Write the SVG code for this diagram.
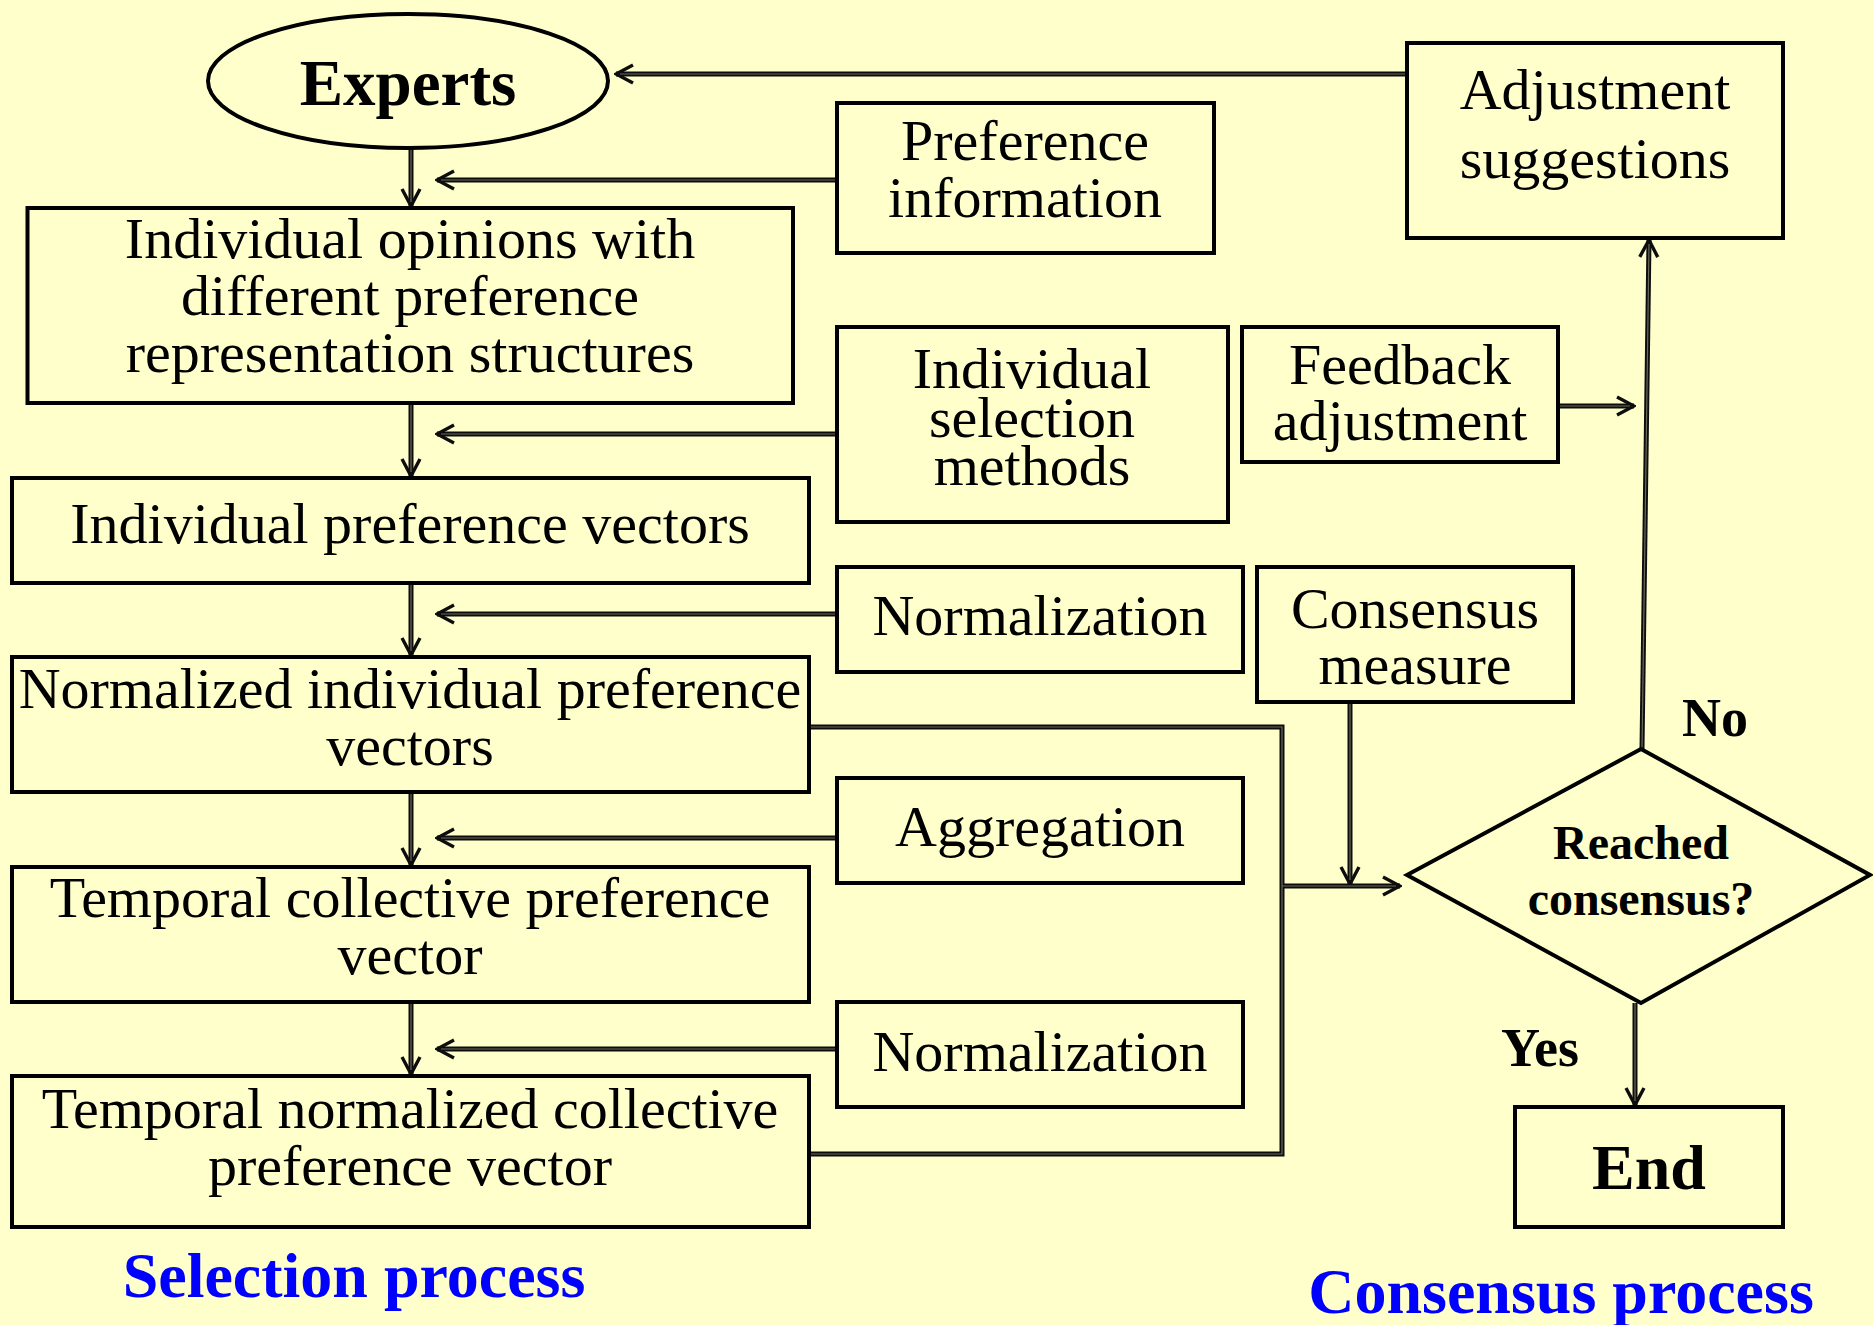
<svg xmlns="http://www.w3.org/2000/svg" width="1873" height="1325" viewBox="0 0 1873 1325">
<style>
.bg{fill:#ffffcc}
.box{fill:none;stroke:#000;stroke-width:4}
.t{font-family:"Liberation Serif","Times New Roman",serif;font-size:58px;fill:#000;text-anchor:middle}
.b{font-weight:bold}
.lbl{font-family:"Liberation Serif","Times New Roman",serif;font-weight:bold;font-size:64px;fill:#0000ff;text-anchor:middle}
.c{fill:none;stroke:#0d0d0d;stroke-width:5}
.ci{fill:none;stroke:#6a6a5c;stroke-width:1.2}
</style>
<defs>
<marker id="ah" viewBox="0 0 22 22" refX="20" refY="11" markerWidth="22" markerHeight="22" markerUnits="userSpaceOnUse" orient="auto">
<path d="M3,2 L20,11 L3,20" fill="none" stroke="#0d0d0d" stroke-width="3.4"/>
</marker>
</defs>
<rect class="bg" x="0" y="0" width="1873" height="1325"/>

<g id="connectors">
<path class="c" d="M1407,74 L616,74" marker-end="url(#ah)"/>
<path class="c" d="M837,180 L437,180" marker-end="url(#ah)"/>
<path class="c" d="M411,148 L411,206" marker-end="url(#ah)"/>
<path class="c" d="M837,434 L437,434" marker-end="url(#ah)"/>
<path class="c" d="M411,403 L411,476" marker-end="url(#ah)"/>
<path class="c" d="M837,614 L437,614" marker-end="url(#ah)"/>
<path class="c" d="M411,583 L411,655" marker-end="url(#ah)"/>
<path class="c" d="M837,838 L437,838" marker-end="url(#ah)"/>
<path class="c" d="M411,792 L411,865" marker-end="url(#ah)"/>
<path class="c" d="M837,1049 L437,1049" marker-end="url(#ah)"/>
<path class="c" d="M411,1002 L411,1074" marker-end="url(#ah)"/>
<path class="c" d="M809,727 L1282,727 L1282,1154 L809,1154"/>
<path class="c" d="M1282,886 L1400,886" marker-end="url(#ah)"/>
<path class="c" d="M1350,702 L1350,884" marker-end="url(#ah)"/>
<path class="c" d="M1558,406 L1634,406" marker-end="url(#ah)"/>
<path class="c" d="M1642,749 L1649,240" marker-end="url(#ah)"/>
<path class="c" d="M1635,1003 L1635,1105" marker-end="url(#ah)"/>
<g class="inner">
<path class="ci" d="M1407,74 L620,74"/>
<path class="ci" d="M837,180 L441,180"/>
<path class="ci" d="M411,148 L411,202"/>
<path class="ci" d="M837,434 L441,434"/>
<path class="ci" d="M411,403 L411,472"/>
<path class="ci" d="M837,614 L441,614"/>
<path class="ci" d="M411,583 L411,651"/>
<path class="ci" d="M837,838 L441,838"/>
<path class="ci" d="M411,792 L411,861"/>
<path class="ci" d="M837,1049 L441,1049"/>
<path class="ci" d="M411,1002 L411,1070"/>
<path class="ci" d="M809,727 L1282,727 L1282,1154 L809,1154"/>
<path class="ci" d="M1282,886 L1396,886"/>
<path class="ci" d="M1350,702 L1350,880"/>
<path class="ci" d="M1558,406 L1630,406"/>
<path class="ci" d="M1642,749 L1649,244"/>
<path class="ci" d="M1635,1003 L1635,1101"/>
</g>
</g>

<g id="experts">
<ellipse class="box" cx="408" cy="81" rx="200" ry="67"/>
<text class="t b" x="408" y="105" style="font-size:65px">Experts</text>
</g>

<g id="individual-opinions">
<rect class="box" x="27.5" y="208" width="765.5" height="195"/>
<text class="t" x="410" y="258">Individual opinions with</text>
<text class="t" x="410" y="315">different preference</text>
<text class="t" x="410" y="372">representation structures</text>
</g>

<g id="preference-information">
<rect class="box" x="837" y="103" width="377" height="150"/>
<text class="t" x="1025" y="160">Preference</text>
<text class="t" x="1025" y="217">information</text>
</g>

<g id="adjustment-suggestions">
<rect class="box" x="1407" y="43" width="376" height="195"/>
<text class="t" x="1595" y="109">Adjustment</text>
<text class="t" x="1595" y="178">suggestions</text>
</g>

<g id="individual-selection-methods">
<rect class="box" x="837" y="327" width="391" height="195"/>
<text class="t" x="1032" y="388">Individual</text>
<text class="t" x="1032" y="437">selection</text>
<text class="t" x="1032" y="485">methods</text>
</g>

<g id="feedback-adjustment">
<rect class="box" x="1242" y="327" width="316" height="135"/>
<text class="t" x="1400" y="384">Feedback</text>
<text class="t" x="1400" y="440">adjustment</text>
</g>

<g id="individual-preference-vectors">
<rect class="box" x="12" y="478" width="797" height="105"/>
<text class="t" x="410" y="543">Individual preference vectors</text>
</g>

<g id="normalization-1">
<rect class="box" x="837" y="567" width="406" height="105"/>
<text class="t" x="1040" y="635">Normalization</text>
</g>

<g id="consensus-measure">
<rect class="box" x="1257" y="567" width="316" height="135"/>
<text class="t" x="1415" y="628">Consensus</text>
<text class="t" x="1415" y="684">measure</text>
</g>

<g id="normalized-individual-preference-vectors">
<rect class="box" x="12" y="657" width="797" height="135"/>
<text class="t" x="410" y="708">Normalized individual preference</text>
<text class="t" x="410" y="765">vectors</text>
</g>

<g id="aggregation">
<rect class="box" x="837" y="778" width="406" height="105"/>
<text class="t" x="1040" y="846">Aggregation</text>
</g>

<g id="temporal-collective-preference-vector">
<rect class="box" x="12" y="867" width="797" height="135"/>
<text class="t" x="410" y="917">Temporal collective preference</text>
<text class="t" x="410" y="974">vector</text>
</g>

<g id="normalization-2">
<rect class="box" x="837" y="1002" width="406" height="105"/>
<text class="t" x="1040" y="1071">Normalization</text>
</g>

<g id="temporal-normalized-collective-preference-vector">
<rect class="box" x="12" y="1076" width="797" height="151"/>
<text class="t" x="410" y="1128">Temporal normalized collective</text>
<text class="t" x="410" y="1185">preference vector</text>
</g>

<g id="reached-consensus">
<polygon class="box" points="1407,875 1641,749 1870,875 1641,1003"/>
<text class="t b" x="1641" y="859" style="font-size:48px">Reached</text>
<text class="t b" x="1641" y="915" style="font-size:48px">consensus?</text>
</g>

<g id="end">
<rect class="box" x="1515" y="1107" width="268" height="120"/>
<text class="t b" x="1649" y="1189" style="font-size:64px">End</text>
</g>

<g id="labels">
<text class="t b" x="1715" y="736" style="font-size:54px">No</text>
<text class="t b" x="1540" y="1066" style="font-size:54px">Yes</text>
<text class="lbl" x="354" y="1297">Selection process</text>
<text class="lbl" x="1561" y="1313">Consensus process</text>
</g>
</svg>
